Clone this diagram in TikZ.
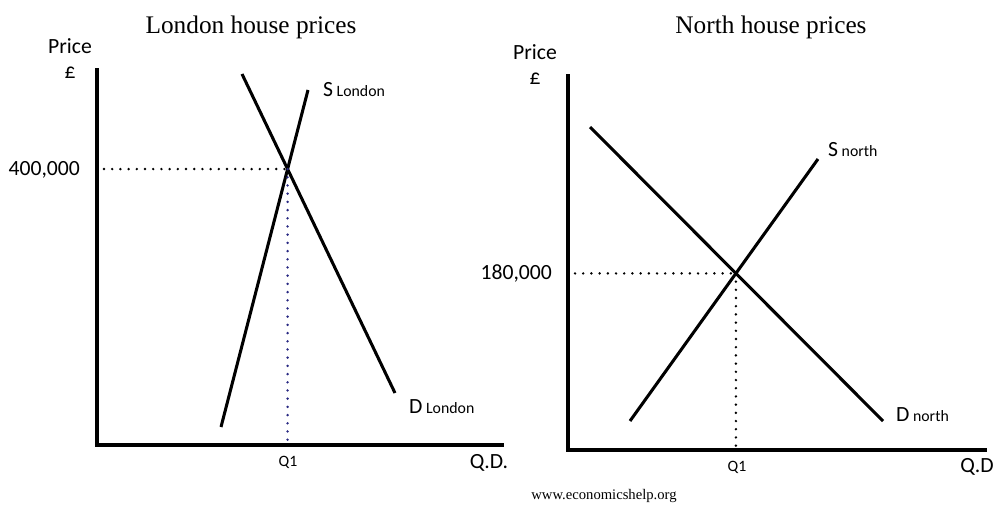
\documentclass[tikz,border=0pt]{standalone}
\usepackage{fontspec}
\setmainfont{Liberation Serif}
\newfontfamily\labelfont{Carlito}
\usetikzlibrary{calc}

\tikzset{
  axis/.style={line width=3.8pt, line cap=rect},
  curve/.style={line width=2.6pt},
  guide/.style={line width=2.3pt, dash pattern=on 0pt off 7pt, line cap=round},
  title/.style={font=\rmfamily\fontsize{21.6}{21.6}\selectfont},
  small/.style={font=\labelfont\fontsize{13.5}{13.5}\selectfont},
}
\definecolor{dotblue}{RGB}{40,40,130}
\newcommand{\lbl}[2]{#1\,{\fontsize{13.5}{13.5}\selectfont #2}}

\begin{document}
\begin{tikzpicture}[x=0.03cm, y=-0.03cm, font=\labelfont\fontsize{18.5}{18.5}\selectfont]
    \useasboundingbox (0,0) rectangle (1000,510);

    % --- LEFT SIDE: LONDON ---
    \node[title] (tL) at (251,27) {London house prices};
    \node (pL) at (70,46) {Price};
    \node (gL) at (70,73) {£};

    \coordinate (yL) at (97,70);
    \coordinate (oL) at (97,445);
    \coordinate (xL) at (502,445);
    \draw[axis] (yL) -- (oL) -- (xL);

    % demand and supply
    \coordinate (dL1) at (242,74);
    \coordinate (dL2) at (395,393);
    \coordinate (sL1) at (221,427);
    \coordinate (sL2) at (308,90);
    \draw[curve] (dL1) -- (dL2);
    \draw[curve] (sL1) -- (sL2);
    \coordinate (eL) at (intersection of dL1--dL2 and sL1--sL2);

    % equilibrium guides
    \node[anchor=east] (vL) at (84,170) {400,000};
    \draw[guide] ($(yL |- eL)+(7,0)$) -- (eL);
    \draw[guide, dotblue] (eL) -- (eL |- oL);

    \node[anchor=west] (lsL) at (319,90) {\lbl{S}{London}};
    \node[anchor=west] (ldL) at (405,407) {\lbl{D}{London}};
    \node[small] (qL) at (288,462) {Q1};
    \node (qdL) at (489,463) {Q.D.};

    % --- RIGHT SIDE: NORTH ---
    \node[title] (tN) at (771,27) {North house prices};
    \node (pN) at (535,52) {Price};
    \node (gN) at (535,79) {£};

    \coordinate (yN) at (568,76);
    \coordinate (oN) at (568,450);
    \coordinate (xN) at (985,450);
    \draw[axis] (yN) -- (oN) -- (xN);

    % demand and supply
    \coordinate (dN1) at (590,127);
    \coordinate (dN2) at (883,421);
    \coordinate (sN1) at (630,421);
    \coordinate (sN2) at (818,159);
    \draw[curve] (dN1) -- (dN2);
    \draw[curve] (sN1) -- (sN2);
    \coordinate (eN) at (intersection of dN1--dN2 and sN1--sN2);

    % equilibrium guides
    \node[anchor=east] (vN) at (556,273) {180,000};
    \draw[guide] ($(yN |- eN)+(7,0)$) -- (eN);
    \draw[guide] (eN) -- (eN |- oN);

    \node[anchor=west] (lsN) at (824,150) {\lbl{S}{north}};
    \node[anchor=west] (ldN) at (892,415) {\lbl{D}{north}};
    \node[small] (qN) at (737,467) {Q1};
    \node (qdN) at (977,467) {Q.D};

    \node[font=\rmfamily\fontsize{12.5}{12.5}\selectfont] (web) at (604,496) {www.economicshelp.org};
\end{tikzpicture}
\end{document}
